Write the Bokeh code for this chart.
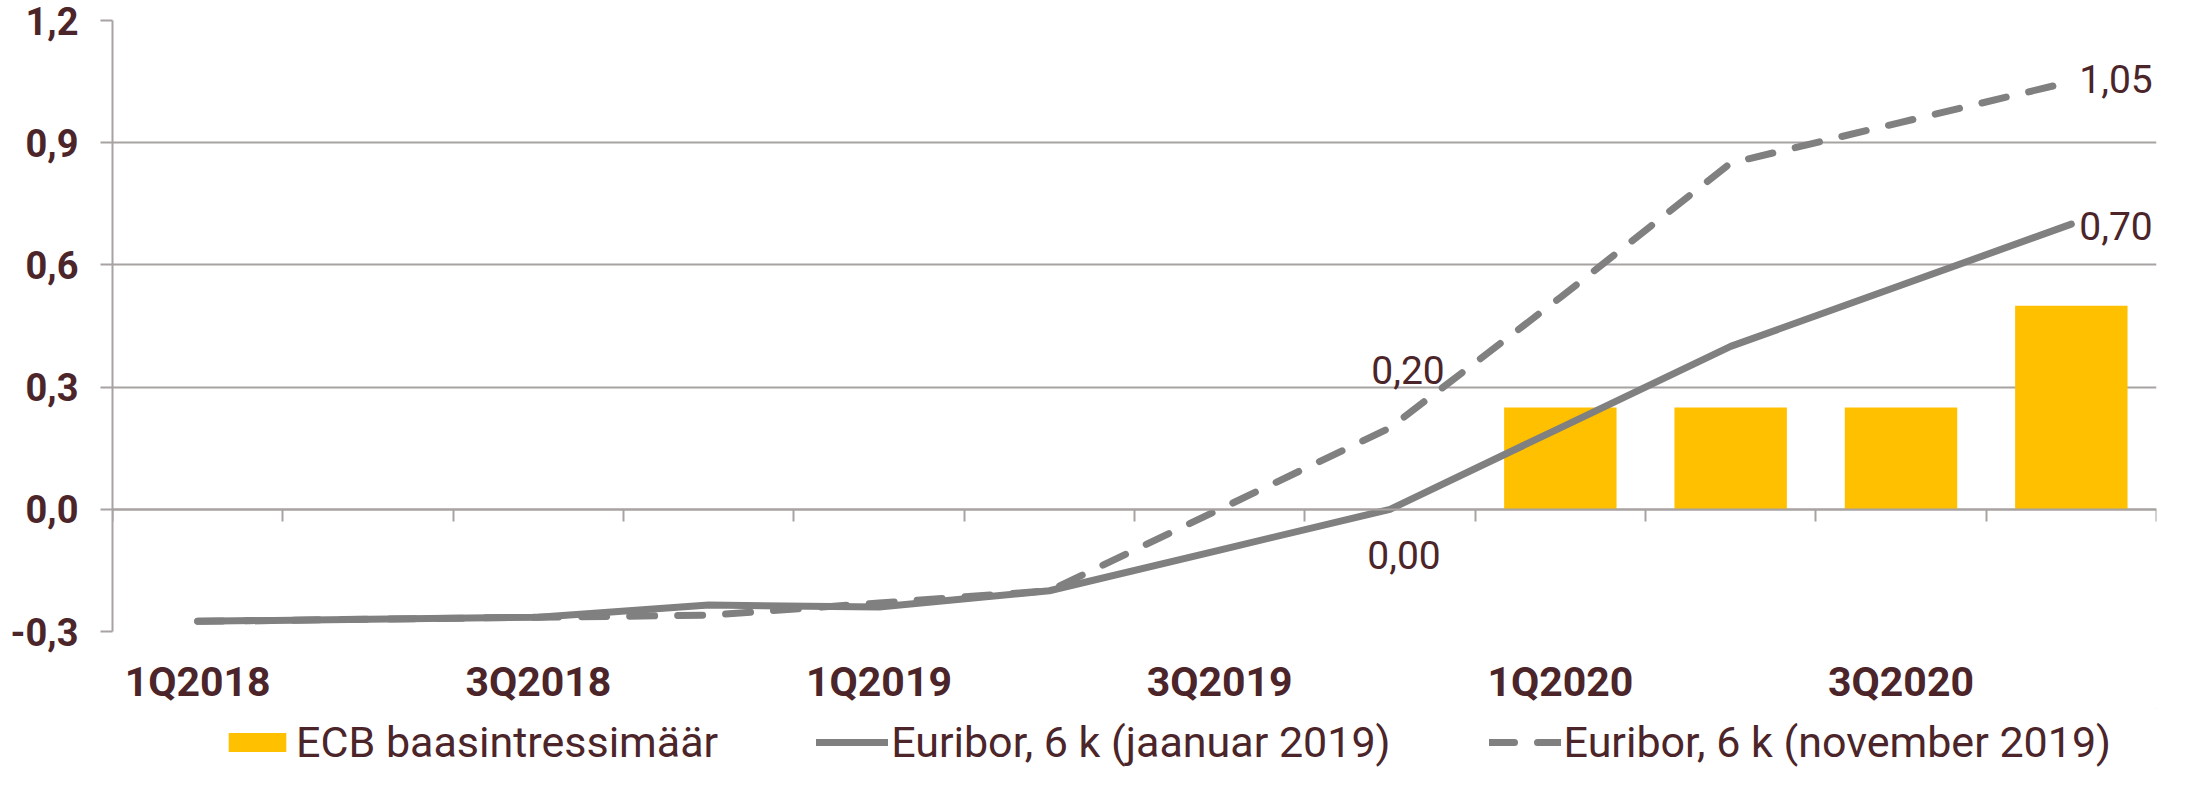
from bokeh.plotting import figure
from bokeh.layouts import column
from bokeh.models import (FixedTicker, LinearAxis, Range1d, Legend, LegendItem,
                          Label, CustomJSTickFormatter, Grid)
from bokeh.embed import file_html
from bokeh.resources import INLINE

# ---------------- data ----------------
quarters = ["1Q2018", "2Q2018", "3Q2018", "4Q2018", "1Q2019", "2Q2019",
            "3Q2019", "4Q2019", "1Q2020", "2Q2020", "3Q2020", "4Q2020"]
euribor_jan2019 = [-0.275, -0.27, -0.265, -0.235, -0.24, -0.20,
                   -0.10, 0.00, 0.20, 0.40, 0.55, 0.70]
euribor_nov2019 = [-0.275, -0.27, -0.265, -0.26, -0.23, -0.20,
                   0.00, 0.20, 0.52, 0.85, 0.95, 1.05]
ecb_quarters = ["1Q2020", "2Q2020", "3Q2020", "4Q2020"]
ecb_rate = [0.25, 0.25, 0.25, 0.50]
y_ticks = [-0.3, 0.0, 0.3, 0.6, 0.9, 1.2]
series_names = ["ECB baasintressimäär", "Euribor, 6 k (jaanuar 2019)",
                "Euribor, 6 k (november 2019)"]

TEXT = "#4b2529"
GRID = "#a8a2a2"
LINE = "#808080"
BAR = "#FFC000"
FONT = "Roboto"
LW = 7
DASH = "25 23"

xs = [i + 0.5 for i in range(len(quarters))]
bar_x = [quarters.index(q) + 0.5 for q in ecb_quarters]


def add_series(fig):
    b = fig.vbar(x=bar_x, top=ecb_rate, bottom=0, width=0.66,
                 fill_color=BAR, line_color=None)
    s = fig.line(xs, euribor_jan2019, line_color=LINE, line_width=LW,
                 line_join="round", line_cap="round")
    d = fig.line(xs, euribor_nov2019, line_color=LINE, line_width=LW,
                 line_join="round", line_cap="round", line_dash=DASH)
    return b, s, d


p = figure(width=2179, height=708, output_backend="svg", toolbar_location=None,
           x_range=Range1d(0, len(quarters)), y_range=Range1d(y_ticks[0], y_ticks[-1]),
           x_axis_type=None, y_axis_type=None,
           min_border_left=112, min_border_right=23, min_border_top=20,
           min_border_bottom=76)
p.outline_line_color = None

# y axis
yaxis = LinearAxis(ticker=FixedTicker(ticks=y_ticks),
                   formatter=CustomJSTickFormatter(code="return tick.toFixed(1).replace('.', ',')"))
yaxis.axis_line_color = GRID
yaxis.axis_line_width = 2
yaxis.major_tick_line_color = GRID
yaxis.major_tick_line_width = 2
yaxis.major_tick_out = 12
yaxis.major_tick_in = 0
yaxis.minor_tick_line_color = None
yaxis.major_label_standoff = 22
yaxis.major_label_text_font = FONT
yaxis.major_label_text_font_style = "bold"
yaxis.major_label_text_font_size = "38px"
yaxis.major_label_text_color = TEXT
p.add_layout(yaxis, "left")

grid = Grid(dimension=1, ticker=FixedTicker(ticks=y_ticks),
            grid_line_color=GRID, grid_line_width=2)
p.add_layout(grid)

# category labels axis
label_ticks = [i + 0.5 for i in range(0, len(quarters), 2)]
xaxis = LinearAxis(ticker=FixedTicker(ticks=label_ticks),
                   major_label_overrides={t: quarters[int(t)] for t in label_ticks})
xaxis.axis_line_color = None
xaxis.major_tick_line_color = None
xaxis.major_tick_out = 0
xaxis.major_tick_in = 0
xaxis.minor_tick_line_color = None
xaxis.major_label_standoff = 26
xaxis.major_label_text_font = FONT
xaxis.major_label_text_font_style = "bold"
xaxis.major_label_text_font_size = "41px"
xaxis.major_label_text_color = TEXT
p.add_layout(xaxis, "below")

# zero axis with category boundary ticks
zaxis = LinearAxis(fixed_location=0,
                   ticker=FixedTicker(ticks=list(range(0, len(quarters) + 1))))
zaxis.axis_line_color = GRID
zaxis.axis_line_width = 2
zaxis.major_tick_line_color = GRID
zaxis.major_tick_line_width = 2
zaxis.major_tick_out = 12
zaxis.major_tick_in = 0
zaxis.minor_tick_line_color = None
zaxis.major_label_text_font_size = "0px"
zaxis.major_label_text_color = None
p.add_layout(zaxis, "below")

add_series(p)


def fmt(v):
    return f"{v:.2f}".replace(".", ",")


i_d = quarters.index("4Q2019")
i_l = len(quarters) - 1
lab_kw = dict(text_font=FONT, text_font_size="39px", text_color=TEXT)
p.add_layout(Label(x=xs[i_d], y=euribor_jan2019[i_d], text=fmt(euribor_jan2019[i_d]),
                   x_offset=14, y_offset=-46, text_align="center", text_baseline="middle", **lab_kw))
p.add_layout(Label(x=xs[i_d], y=euribor_nov2019[i_d], text=fmt(euribor_nov2019[i_d]),
                   x_offset=18, y_offset=58, text_align="center", text_baseline="middle", **lab_kw))
p.add_layout(Label(x=xs[i_l], y=euribor_jan2019[i_l], text=fmt(euribor_jan2019[i_l]),
                   x_offset=8, y_offset=-2, text_align="left", text_baseline="middle", **lab_kw))
p.add_layout(Label(x=xs[i_l], y=euribor_nov2019[i_l], text=fmt(euribor_nov2019[i_l]),
                   x_offset=8, y_offset=3, text_align="left", text_baseline="middle", **lab_kw))

# legend strip: a separate figure whose ranges keep its own copies of the
# series out of view, so only the legend (unclipped by the chart frame) shows
p2 = figure(width=2179, height=62, output_backend="svg", toolbar_location=None,
            x_range=Range1d(-2, -1), y_range=Range1d(-2, -1),
            x_axis_type=None, y_axis_type=None,
            min_border_left=0, min_border_right=0, min_border_top=0, min_border_bottom=0)
p2.outline_line_color = None
r_bar, r_l1, r_l2 = add_series(p2)

legend = Legend(items=[LegendItem(label=series_names[0], renderers=[r_bar]),
                       LegendItem(label=series_names[1], renderers=[r_l1]),
                       LegendItem(label=series_names[2], renderers=[r_l2])],
                orientation="horizontal", location=(109, 3),
                glyph_width=72, glyph_height=24, label_standoff=3, spacing=98,
                padding=0, margin=0, border_line_color=None, background_fill_alpha=0,
                label_text_font=FONT, label_text_font_size="43px",
                label_text_color=TEXT)
p2.add_layout(legend, "center")

layout = column(p, p2, spacing=0)
open("out.html", "w").write(file_html(layout, INLINE))
